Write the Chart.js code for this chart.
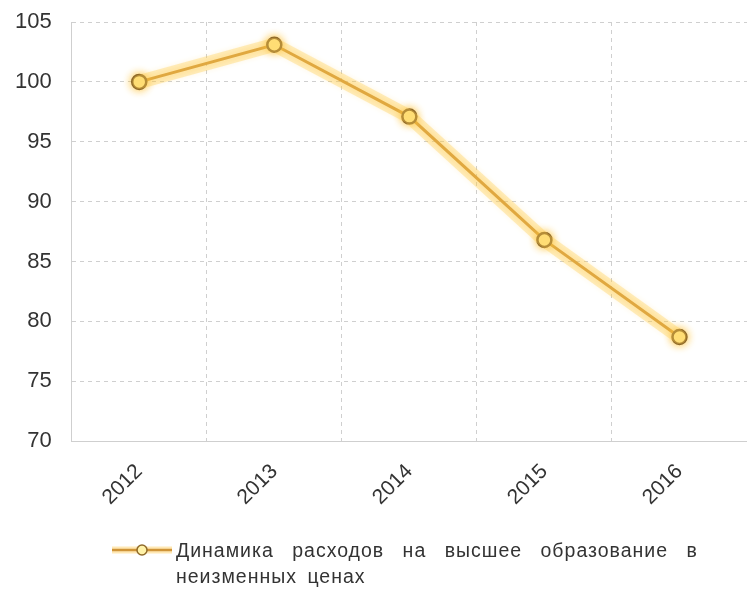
<!DOCTYPE html>
<html>
<head>
<meta charset="utf-8">
<script src="https://cdn.jsdelivr.net/npm/chart.js@4/dist/chart.umd.min.js"></script>
<style>
  html, body { margin: 0; padding: 0; background: #fff; }
  #wrap { width: 747px; height: 594px; position: relative; }
</style>
</head>
<body>
<div id="wrap"><canvas id="chart"></canvas></div>
<script>
  var years = ['2012', '2013', '2014', '2015', '2016'];
  var spending = [100, 103.1, 97.1, 86.8, 78.7];
  var yTicks = [70, 75, 80, 85, 90, 95, 100, 105];
  var legendLines = ['Динамика расходов на высшее образование в', 'неизменных ценах'];

  var gridColor = '#cfcfcf';
  var lineColor = '#cf9438';
  var pointBorder = '#8f6a2a';
  var pointFill = '#fff2a8';

  // legend drawn by hand at the bottom, wrapped to two lines like the original
  var bottomLegend = {
    id: 'bottomLegend',
    afterDraw: function (chart) {
      var ctx = chart.ctx;
      var y = 550;
      ctx.save();
      ctx.strokeStyle = 'rgba(255,205,90,0.45)';
      ctx.lineWidth = 7;
      ctx.beginPath();
      ctx.moveTo(112, y);
      ctx.lineTo(172, y);
      ctx.stroke();
      ctx.strokeStyle = lineColor;
      ctx.lineWidth = 2.5;
      ctx.beginPath();
      ctx.moveTo(112, y);
      ctx.lineTo(172, y);
      ctx.stroke();
      ctx.beginPath();
      ctx.arc(142, y, 5, 0, Math.PI * 2);
      ctx.fillStyle = pointFill;
      ctx.fill();
      ctx.lineWidth = 1.5;
      ctx.strokeStyle = pointBorder;
      ctx.stroke();
      ctx.fillStyle = '#333';
      ctx.font = '19.5px "Liberation Sans"';
      ctx.letterSpacing = '1px';
      ctx.textBaseline = 'middle';
      ctx.textAlign = 'left';
      legendLines.forEach(function (line, i) {
        ctx.wordSpacing = i === 0 ? '12px' : '4px';
        ctx.fillText(line, 176, y + 2 + i * 26);
      });
      ctx.restore();
    }
  };

  // soft yellow glow under the main line
  var glow = {
    id: 'glow',
    beforeDatasetDraw: function (chart, args) {
      if (args.index === 1) {
        chart.ctx.save();
        chart.ctx.shadowColor = 'rgba(255,190,40,0.9)';
        chart.ctx.shadowBlur = 8;
      }
    },
    afterDatasetDraw: function (chart, args) {
      if (args.index === 1) chart.ctx.restore();
    }
  };

  var ctx = document.getElementById('chart');
  var chart = new Chart(ctx, {
    type: 'line',
    data: {
      labels: years,
      datasets: [
        {
          label: 'glow',
          data: spending,
          borderColor: 'rgba(255,205,80,0.35)',
          borderWidth: 14,
          pointRadius: 0,
          borderJoinStyle: 'round',
          borderCapStyle: 'round'
        },
        {
          label: legendLines.join(' '),
          data: spending,
          borderColor: lineColor,
          borderWidth: 3,
          pointRadius: 7,
          pointBorderWidth: 2.5,
          pointBackgroundColor: pointFill,
          pointBorderColor: pointBorder,
          tension: 0
        }
      ]
    },
    options: {
      responsive: true,
      maintainAspectRatio: false,
      animation: false,
      layout: { autoPadding: false, padding: { top: 22, right: -2, left: -5, bottom: 66 } },
      plugins: {
        legend: { display: false },
        tooltip: { enabled: false }
      },
      scales: {
        x: {
          offset: true,
          grid: {
            color: gridColor,
            offset: true,
            tickLength: 0
          },
          border: { color: gridColor, dash: [4, 4] },
          ticks: {
            color: '#333',
            font: { family: 'Liberation Sans', size: 21 },
            maxRotation: 45,
            minRotation: 45,
            padding: 18
          },
          // don't let the rotated first label push the plot to the right
          afterFit: function (scale) {
            scale.paddingLeft = 0;
            scale.paddingRight = 0;
          }
        },
        y: {
          min: yTicks[0],
          max: yTicks[yTicks.length - 1],
          grid: {
            color: gridColor,
            tickLength: 0
          },
          border: { color: gridColor, dash: [4, 4] },
          ticks: {
            stepSize: yTicks[1] - yTicks[0],
            color: '#333',
            font: { family: 'Liberation Sans', size: 22 },
            padding: 20
          },
          afterFit: function (scale) {
            scale.paddingTop = 0;
            scale.paddingBottom = 0;
          }
        }
      }
    },
    plugins: [glow, bottomLegend]
  });
</script>
</body>
</html>
